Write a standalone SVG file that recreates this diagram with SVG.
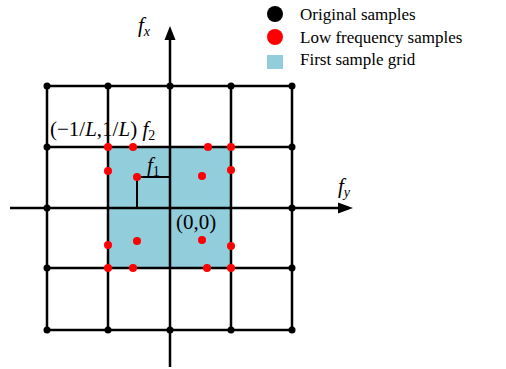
<svg xmlns="http://www.w3.org/2000/svg" width="506" height="369" viewBox="0 0 506 369">
<style>
.g{stroke:#000;stroke-width:2.5;fill:none}
.t{stroke:#000;stroke-width:2;fill:none}
.b{fill:#000}
.r{fill:#f00}
text{font-family:"Liberation Serif","Times New Roman",serif;font-size:17px;fill:#000}
.lab{font-size:21px}
.i{font-style:italic}
.s{font-size:14px}
</style>
<rect width="506" height="369" fill="#fff"/>
<g id="grid-fill"><rect x="108" y="147" width="123" height="121" fill="#92CDDC"/></g>
<g id="connectors">
<path class="g" d="M47 86V330M108 86V330M231 86V330M292 86V330M170 38V367"/>
<path class="g" d="M47 86H292M47 147H292M47 268H292M47 330H292M10 208H340"/>
<path class="t" d="M137 177H170M137 177V208"/>
<polygon points="170,26 164.5,40 175.5,40" class="b"/>
<polygon points="353,208 338,202.5 338,213.5" class="b"/>
</g>
<g id="original-samples">
<circle cx="47" cy="86" r="3.5" class="b"/><circle cx="108" cy="86" r="3.5" class="b"/><circle cx="170" cy="86" r="3.5" class="b"/><circle cx="231" cy="86" r="3.5" class="b"/><circle cx="292" cy="86" r="3.5" class="b"/>
<circle cx="47" cy="147" r="3.5" class="b"/><circle cx="292" cy="147" r="3.5" class="b"/>
<circle cx="47" cy="208" r="3.5" class="b"/><circle cx="292" cy="208" r="3.5" class="b"/>
<circle cx="47" cy="268" r="3.5" class="b"/><circle cx="292" cy="268" r="3.5" class="b"/>
<circle cx="47" cy="330" r="3.5" class="b"/><circle cx="108" cy="330" r="3.5" class="b"/><circle cx="170" cy="330" r="3.5" class="b"/><circle cx="231" cy="330" r="3.5" class="b"/><circle cx="292" cy="330" r="3.5" class="b"/>
</g>
<g id="low-frequency-samples">
<circle cx="108" cy="147" r="4" class="r"/><circle cx="133" cy="147" r="4" class="r"/><circle cx="208" cy="147" r="4" class="r"/><circle cx="231" cy="147" r="4" class="r"/>
<circle cx="108" cy="171" r="4" class="r"/><circle cx="231" cy="170" r="4" class="r"/>
<circle cx="137" cy="177" r="4" class="r"/><circle cx="202" cy="176" r="4" class="r"/>
<circle cx="137" cy="241" r="4" class="r"/><circle cx="202" cy="240" r="4" class="r"/>
<circle cx="108" cy="245" r="4" class="r"/><circle cx="231" cy="246" r="4" class="r"/>
<circle cx="108" cy="268" r="4" class="r"/><circle cx="133" cy="268" r="4" class="r"/><circle cx="207" cy="268" r="4" class="r"/><circle cx="231" cy="268" r="4" class="r"/>
</g>
<g id="labels">
<text x="138" y="32" class="lab i">f<tspan class="s" dy="4">x</tspan></text>
<text x="338" y="193" class="lab i">f<tspan class="s" dy="4">y</tspan></text>
<text x="50" y="136" class="lab">(−1/<tspan class="i">L</tspan>,1/<tspan class="i">L</tspan>) <tspan class="i">f</tspan><tspan class="s" dy="4">2</tspan></text>
<text x="147" y="172" class="lab i">f<tspan class="s" dy="4" font-style="normal">1</tspan></text>
<text x="176" y="229" class="lab">(0,0)</text>
</g>
<g id="legend">
<circle cx="275" cy="14" r="8" class="b"/>
<text x="300" y="20">Original samples</text>
<circle cx="275" cy="37" r="8" class="r"/>
<text x="300" y="43">Low frequency samples</text>
<rect x="267" y="55" width="16" height="14" fill="#92CDDC"/>
<text x="300" y="65">First sample grid</text>
</g>
</svg>
